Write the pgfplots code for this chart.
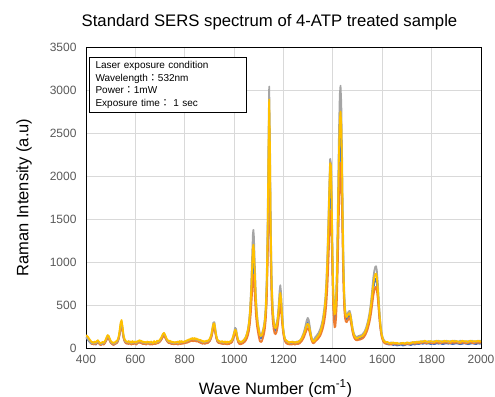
\documentclass[border=0pt]{standalone}
\usepackage{pgfplots}
\usepackage{pgfplotstable}
\pgfplotsset{compat=1.18}
\usepackage{fontspec}
\setmainfont{Liberation Sans}
\newfontfamily\cjk{Noto Sans CJK JP}
\definecolor{sBlue}{HTML}{4472C4}
\definecolor{sOrange}{HTML}{ED7D31}
\definecolor{sGray}{HTML}{A5A5A5}
\definecolor{sYellow}{HTML}{FFC000}
\definecolor{tickgray}{HTML}{595959}
\definecolor{gridgray}{HTML}{D9D9D9}
\pgfplotstableread{
x g y b o
400 110 150 120 130
404 120 140 110 125
408 100 130 95 110
412 85 110 80 90
416 70 95 65 75
420 60 80 55 60
424 55 70 50 45
428 70 65 55 50
432 50 60 45 40
436 60 75 50 55
440 55 65 40 45
444 65 80 55 60
448 80 90 70 65
452 70 75 60 55
456 55 60 45 40
460 50 55 40 35
464 45 65 50 40
468 60 70 55 50
472 55 60 45 40
476 70 80 60 55
480 90 100 80 75
484 120 130 105 95
488 145 150 130 115
492 135 140 120 110
496 100 110 90 85
500 75 85 65 60
504 60 70 55 50
508 55 60 45 40
512 50 65 40 35
516 55 60 45 45
520 60 75 55 50
524 70 80 60 55
528 85 95 75 70
532 120 130 105 100
536 180 200 160 150
540 270 290 240 220
544 310 325 280 260
548 230 250 210 195
552 140 150 125 115
556 95 105 85 80
560 75 85 65 60
564 65 75 55 50
568 70 70 60 55
572 60 80 50 45
576 75 65 60 55
580 65 75 55 50
584 55 60 45 40
588 70 80 60 55
592 60 70 55 45
596 75 65 60 55
600 65 75 50 50
604 55 65 45 40
608 70 80 60 55
612 80 75 70 60
616 75 90 65 60
620 85 80 70 65
624 70 85 60 55
628 65 70 55 50
632 60 75 50 45
636 70 65 55 50
640 55 70 45 45
644 65 60 50 40
648 60 75 55 50
652 70 65 60 55
656 60 70 50 45
660 55 60 45 40
664 65 75 55 50
668 55 65 45 40
672 60 55 50 45
676 70 80 60 55
680 60 70 50 45
684 65 60 55 50
688 75 85 60 55
692 70 75 60 55
696 80 85 70 65
700 90 100 80 75
704 110 115 95 90
708 135 140 120 110
712 160 165 140 130
716 170 175 150 140
720 150 155 130 125
724 120 125 105 100
728 95 100 85 80
732 80 90 70 65
736 70 75 60 55
740 75 85 65 60
744 65 70 55 50
748 60 75 50 45
752 70 65 55 50
756 55 70 45 40
760 65 60 55 50
764 60 70 50 45
768 70 65 55 50
772 55 75 45 40
776 65 60 50 45
780 75 80 60 55
784 60 65 50 45
788 70 80 60 55
792 65 70 55 50
796 75 70 60 55
800 70 80 60 55
804 80 75 65 60
808 75 90 65 60
812 85 85 70 65
816 90 100 75 70
820 95 95 80 75
824 100 110 85 80
828 110 105 90 85
832 105 115 90 80
836 100 100 85 80
840 110 115 90 85
844 100 105 85 80
848 95 110 80 75
852 100 95 85 80
856 90 100 75 70
860 85 90 70 65
864 80 95 65 60
868 75 80 60 55
872 70 85 55 50
876 75 70 60 55
880 65 80 55 50
884 70 75 60 50
888 80 85 65 60
892 75 80 60 55
896 85 90 70 65
900 95 100 80 75
904 120 125 100 95
908 160 160 135 125
912 230 220 190 175
916 295 280 250 230
920 300 285 255 235
924 220 210 185 170
928 140 140 120 110
932 95 100 80 75
936 80 85 65 60
940 70 80 60 55
944 75 70 60 55
948 65 75 55 50
952 70 80 60 50
956 60 70 50 45
960 75 65 60 55
964 65 75 50 45
968 70 60 55 50
972 60 75 50 40
976 70 65 55 50
980 65 75 50 45
984 75 70 60 55
988 80 85 65 60
992 95 100 80 70
996 130 135 110 100
1000 180 175 150 140
1004 235 210 190 170
1008 220 200 180 165
1012 150 140 120 110
1016 95 95 80 70
1020 75 80 60 50
1024 65 70 55 45
1028 70 75 55 45
1032 75 70 60 50
1036 80 85 65 55
1040 95 95 75 65
1044 110 110 90 75
1048 135 130 110 90
1052 170 165 140 115
1056 220 210 180 150
1060 300 285 245 200
1064 430 400 350 285
1068 650 590 520 420
1072 980 870 760 610
1076 1320 1160 1010 820
1078 1374 1200 1050 850
1080 1300 1140 1000 810
1084 950 850 740 600
1088 620 560 490 400
1092 420 380 330 270
1096 300 275 240 195
1100 230 210 185 130
1104 170 150 120 80
1108 160 140 110 70
1112 165 145 115 75
1116 200 185 160 110
1120 250 230 200 150
1124 330 305 265 210
1128 480 445 390 320
1132 800 740 650 530
1136 1500 1400 1230 1000
1139 2400 2250 1980 1620
1142 3040 2890 2500 2150
1145 2500 2350 2050 1750
1148 1500 1420 1250 1050
1152 800 750 660 550
1156 480 450 400 330
1160 330 305 270 220
1164 260 240 210 170
1168 250 230 200 160
1172 280 255 230 185
1176 350 320 290 240
1180 480 430 400 330
1184 660 590 550 460
1187 730 640 600 500
1190 650 580 540 450
1194 430 390 360 300
1198 260 240 220 185
1202 160 150 135 115
1206 110 105 90 80
1210 85 90 70 60
1214 75 80 60 50
1218 65 75 55 45
1222 70 60 55 45
1226 60 70 50 40
1230 70 65 55 45
1234 60 75 50 40
1238 75 65 55 50
1242 65 70 50 45
1246 70 60 55 40
1250 60 70 50 45
1254 75 65 55 50
1258 65 75 50 45
1262 80 70 60 50
1266 85 85 65 55
1270 100 95 80 70
1274 120 110 95 80
1278 150 135 120 100
1282 180 160 140 120
1286 220 190 175 150
1290 270 230 210 180
1294 320 265 250 210
1298 350 280 300 230
1302 330 270 280 220
1306 260 220 220 180
1310 180 160 155 130
1314 120 110 100 85
1318 90 80 75 60
1322 95 75 80 55
1326 110 85 90 65
1330 130 100 105 80
1334 140 115 115 90
1338 160 130 130 100
1342 175 145 145 115
1346 200 165 165 130
1350 230 195 190 150
1354 270 235 225 180
1358 320 285 265 215
1362 390 350 320 260
1366 480 440 400 320
1370 600 560 500 400
1374 800 750 660 530
1378 1100 1040 900 720
1382 1500 1430 1250 1000
1386 1950 1880 1650 1330
1389 2200 2150 1900 1580
1392 2150 2120 1870 1600
1395 1800 1750 1550 1300
1398 1200 1150 1000 850
1401 750 700 600 500
1404 520 470 400 320
1407 440 390 320 240
1410 460 410 340 250
1413 600 540 460 350
1416 900 800 700 540
1419 1400 1250 1100 850
1422 2000 1800 1600 1250
1425 2550 2300 2050 1650
1428 2950 2650 2350 1950
1431 3050 2750 2450 2150
1434 2850 2600 2300 2000
1437 2300 2100 1850 1600
1440 1600 1450 1300 1100
1443 1000 920 820 700
1446 650 600 540 460
1449 470 440 400 350
1452 400 380 350 310
1456 380 360 335 300
1460 400 380 350 320
1464 425 400 375 345
1468 430 405 380 350
1472 390 365 340 310
1476 310 290 270 245
1480 230 215 200 180
1484 180 165 150 135
1488 150 135 125 110
1492 135 120 110 95
1496 125 110 100 90
1500 130 115 105 90
1504 140 120 110 95
1508 135 125 105 95
1512 150 130 120 100
1516 145 135 115 105
1520 160 140 130 110
1524 175 155 140 120
1528 190 170 155 135
1532 215 195 175 155
1536 250 225 205 180
1540 290 265 240 210
1544 340 310 285 250
1548 400 365 335 295
1552 480 440 405 355
1556 580 530 490 430
1560 700 640 590 520
1564 820 745 690 610
1568 900 820 760 670
1572 945 860 800 705
1575 950 865 805 710
1578 900 820 765 675
1582 760 690 645 570
1586 560 510 475 420
1590 380 345 320 285
1594 250 230 210 190
1598 170 155 140 125
1602 120 110 100 90
1606 95 85 75 65
1610 80 75 65 55
1614 70 65 55 50
1620 60 70 45 50
1628 55 60 40 45
1636 65 55 50 40
1644 50 65 35 45
1652 60 55 40 50
1660 55 60 30 40
1668 45 50 35 45
1676 60 55 40 50
1684 50 60 30 45
1692 55 50 35 40
1700 60 65 45 50
1708 55 60 40 45
1716 65 55 35 50
1724 60 70 45 55
1732 70 60 40 50
1740 65 75 50 55
1748 75 65 45 60
1756 70 80 55 55
1764 80 70 50 65
1772 75 85 55 60
1780 70 75 50 55
1788 80 70 55 65
1796 75 80 45 60
1804 70 75 50 55
1812 80 70 45 60
1820 75 85 55 65
1828 85 75 50 60
1836 70 80 55 55
1844 80 70 45 65
1852 75 85 50 60
1860 85 75 55 65
1868 70 80 50 60
1876 80 70 55 55
1884 75 85 45 65
1892 85 75 50 60
1900 80 80 55 65
1908 70 75 50 60
1916 85 70 45 55
1924 75 85 50 65
1932 80 75 55 60
1940 70 80 50 55
1948 80 70 45 60
1956 75 85 50 65
1964 85 75 55 60
1972 70 80 50 55
1980 80 75 45 65
1988 75 85 55 60
1996 85 75 50 60
2000 80 80 55 65
}\spec
\begin{document}
\begin{tikzpicture}
\begin{axis}[
  scale only axis,
  width=395pt, height=301pt,
  xmin=400, xmax=2000, ymin=0, ymax=3500,
  xtick={400,600,...,2000}, ytick={0,500,...,3500},
  grid=major,
  major grid style={draw=gridgray, line width=0.8pt},
  axis line style={draw=black, line width=0.8pt},
  tick style={draw=none},
  ticklabel style={font=\fontsize{12}{14}\selectfont, text=tickgray},
  /pgf/number format/assume math mode=true,
  /pgf/number format/1000 sep={},
  xticklabel style={yshift=-4pt},
  yticklabel style={xshift=-6pt},
  title={Standard SERS spectrum of 4-ATP treated sample},
  title style={font=\fontsize{16.7}{19}\selectfont, yshift=7pt, xshift=-14pt},
  xlabel={Wave Number (cm\textsuperscript{-1})},
  ylabel={Raman Intensity (a.u)},
  label style={font=\fontsize{16.5}{19}\selectfont},
  xlabel style={yshift=-9pt, xshift=-8pt},
  ylabel style={yshift=11pt},
  clip=true,
]
\addplot[sBlue, line width=1.8pt, line join=round] table[x=x, y=b] {\spec};
\addplot[sOrange, line width=1.8pt, line join=round] table[x=x, y=o] {\spec};
\addplot[sGray, line width=1.8pt, line join=round] table[x=x, y=g] {\spec};
\addplot[sYellow, line width=1.8pt, line join=round] table[x=x, y=y] {\spec};
\node[draw=black, line width=0.8pt, fill=white, anchor=north west, align=left,
      text width=145pt, inner xsep=6pt, inner ysep=4pt,
      font=\fontsize{10}{12.5}\selectfont]
  at (rel axis cs:0.008,0.967)
  {Laser exposure condition\\
   Wavelength{\cjk ：}532nm\\
   Power{\cjk ：}1mW\\
   Exposure time{\cjk ：} 1 sec};
\end{axis}
\pgfresetboundingbox
\path ([shift={(-86pt,-49pt)}]current axis.south west) rectangle ([shift={(14pt,47pt)}]current axis.north east);
\end{tikzpicture}
\end{document}
